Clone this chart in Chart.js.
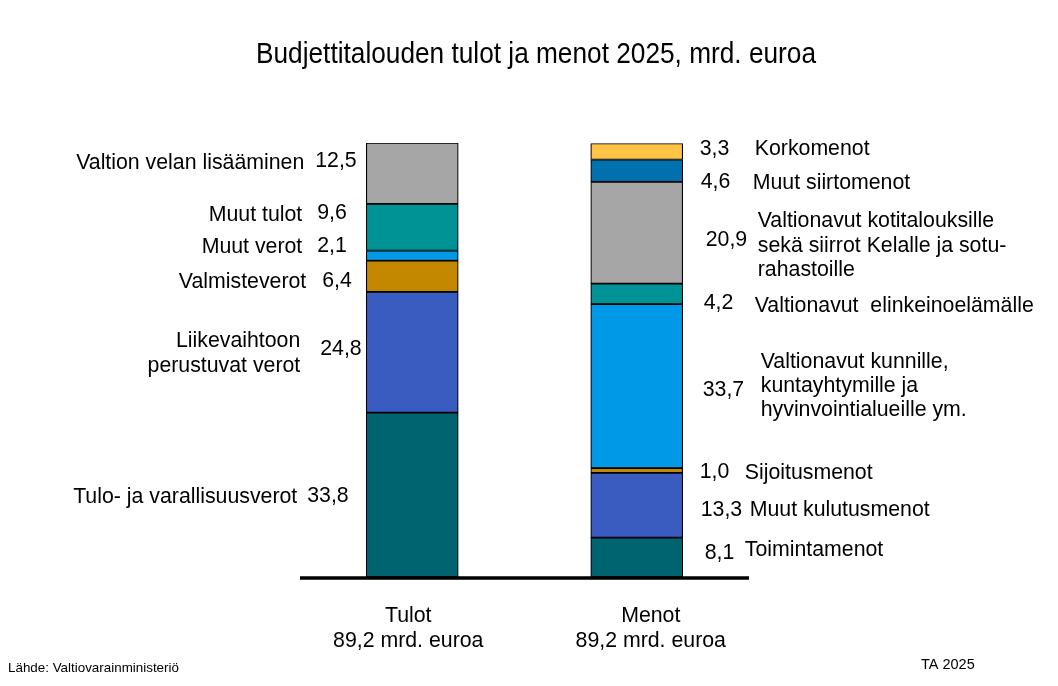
<!DOCTYPE html>
<html>
<head>
<meta charset="utf-8">
<script src="https://cdn.jsdelivr.net/npm/chart.js@4.4.1/dist/chart.umd.min.js"></script>
<style>
  html, body { margin: 0; padding: 0; background: #ffffff; }
  #wrap { width: 1058px; height: 686px; position: relative; }
</style>
</head>
<body>
<div id="wrap"><canvas id="c" width="1058" height="686"></canvas></div>
<script>
// ---- Data ----
const title = 'Budjettitalouden tulot ja menot 2025, mrd. euroa';
const categories = ['Tulot', 'Menot'];
const categoryTotals = ['89,2 mrd. euroa', '89,2 mrd. euroa'];
const sourceText = 'Lähde: Valtiovarainministeriö';
const stampText = 'TA 2025';

// bottom to top
const incomeLabels = [
  'Tulo- ja varallisuusverot',
  ['Liikevaihtoon', 'perustuvat verot'],
  'Valmisteverot',
  'Muut verot',
  'Muut tulot',
  'Valtion velan lisääminen'
];
const incomeValues = [33.8, 24.8, 6.4, 2.1, 9.6, 12.5];

const expenseLabels = [
  'Toimintamenot',
  'Muut kulutusmenot',
  'Sijoitusmenot',
  ['Valtionavut kunnille,', 'kuntayhtymille ja', 'hyvinvointialueille ym.'],
  'Valtionavut  elinkeinoelämälle',
  ['Valtionavut kotitalouksille', 'sekä siirrot Kelalle ja sotu-', 'rahastoille'],
  'Muut siirtomenot',
  'Korkomenot'
];
const expenseValues = [8.1, 13.3, 1.0, 33.7, 4.2, 20.9, 4.6, 3.3];

// ---- Styles ----
const incomeColors = ['#006470', '#3A5BC0', '#C48800', '#0099E8', '#009396', '#A6A6A6'];
const expenseColors = ['#006470', '#3A5BC0', '#C48800', '#0099E8', '#009396', '#A6A6A6', '#0070AF', '#FFC445'];

// label placement nudges (px): [nameOffsetX, valueOffsetX, nameDy, valueDy]
// Tulot: offsets from bar left edge (name right-aligned, value left-aligned)
const incomeLabelLayout = [
  [-69, -59, 0.5, 0],
  [-66, -46, -0.5, -4.5],
  [-60, -44, 4, 3],
  [-64, -49, -10.5, -11.5],
  [-64, -49, -14, -15.5],
  [-62, -51, -11.5, -13.5]
];
// Menot: offsets from bar right edge (both left-aligned)
const expenseLabelLayout = [
  [62, 22, -9, -5.5],
  [67, 18, 3, 3],
  [62, 17, 1, 0],
  [78, 20, -1.5, 2.3],
  [72, 21, 11, 8],
  [75, 23, 11.3, 5.6],
  [70, 18, 11, 9.5],
  [72, 17, -4, -4]
];
// category label horizontal nudges (px)
const categoryLabelDx = [-4, 14];

const FONT = '"Liberation Sans", Arial, sans-serif';
const fmt = v => v.toFixed(1).replace('.', ',');

const datasets = [];
incomeValues.forEach((v, i) => {
  datasets.push({
    label: Array.isArray(incomeLabels[i]) ? incomeLabels[i].join(' ') : incomeLabels[i],
    data: [v, null],
    backgroundColor: incomeColors[i],
    group: 0, idx: i
  });
});
expenseValues.forEach((v, i) => {
  datasets.push({
    label: Array.isArray(expenseLabels[i]) ? expenseLabels[i].join(' ') : expenseLabels[i],
    data: [null, v],
    backgroundColor: expenseColors[i],
    group: 1, idx: i
  });
});

function drawLines(ctx, lines, x, cy, lh, align) {
  const arr = Array.isArray(lines) ? lines : [lines];
  const n = arr.length;
  ctx.textAlign = align;
  arr.forEach((t, k) => {
    const y = cy + (k - (n - 1) / 2) * lh;
    ctx.fillText(t, x, y + 7.5);
  });
}

const annotatePlugin = {
  id: 'annotate',
  afterDatasetsDraw(chart) {
    const ctx = chart.ctx;
    const ca = chart.chartArea;
    ctx.save();
    // axis line
    ctx.strokeStyle = '#000';
    ctx.lineWidth = 3.5;
    ctx.beginPath();
    ctx.moveTo(ca.left, ca.bottom + 1);
    ctx.lineTo(ca.right, ca.bottom + 1);
    ctx.stroke();

    ctx.fillStyle = '#000';
    ctx.textBaseline = 'alphabetic';
    ctx.font = '21.3px ' + FONT;
    chart.data.datasets.forEach((ds, di) => {
      const meta = chart.getDatasetMeta(di);
      const cat = ds.group;
      const el = meta.data[cat];
      if (!el) return;
      const cy = (el.y + el.base) / 2;
      const left = el.x - el.width / 2;
      const right = el.x + el.width / 2;
      if (ds.group === 0) {
        const L = incomeLabelLayout[ds.idx];
        drawLines(ctx, incomeLabels[ds.idx], left + L[0], cy + L[2], 24.8, 'right');
        drawLines(ctx, fmt(incomeValues[ds.idx]), left + L[1], cy + L[3], 24.8, 'left');
      } else {
        const L = expenseLabelLayout[ds.idx];
        drawLines(ctx, expenseLabels[ds.idx], right + L[0], cy + L[2], 24.3, 'left');
        drawLines(ctx, fmt(expenseValues[ds.idx]), right + L[1], cy + L[3], 24.3, 'left');
      }
    });

    // category labels
    const xs = chart.scales.x;
    ctx.font = '21.3px ' + FONT;
    ctx.textAlign = 'center';
    categories.forEach((c, i) => {
      const x = xs.getPixelForValue(i) + categoryLabelDx[i];
      ctx.fillText(c, x, 622);
      ctx.fillText(categoryTotals[i], x, 647);
    });

    // title (condensed)
    ctx.font = '30px "Liberation Sans Narrow", ' + FONT;
    const w = ctx.measureText(title).width;
    const target = 560;
    ctx.save();
    ctx.translate(536, 63);
    ctx.scale(target / w, 1);
    ctx.textAlign = 'center';
    ctx.fillText(title, 0, 0);
    ctx.restore();

    // footer
    ctx.textAlign = 'left';
    ctx.font = '13.4px ' + FONT;
    ctx.fillText(sourceText, 8, 672);
    ctx.font = '14.5px ' + FONT;
    ctx.fillText(stampText, 921, 669);
    ctx.restore();
  }
};

new Chart(document.getElementById('c'), {
  type: 'bar',
  data: { labels: categories, datasets },
  options: {
    responsive: false,
    animation: false,
    events: [],
    layout: { padding: { left: 300, right: 309, top: 143, bottom: 109 } },
    datasets: {
      bar: {
        barThickness: 92,
        borderColor: '#000',
        borderWidth: 1.2,
        borderSkipped: false
      }
    },
    plugins: {
      legend: { display: false },
      tooltip: { enabled: false },
      title: { display: false }
    },
    scales: {
      x: { stacked: true, display: false },
      y: { stacked: true, display: false, min: 0, max: 89.2 }
    }
  },
  plugins: [annotatePlugin]
});
</script>
</body>
</html>
